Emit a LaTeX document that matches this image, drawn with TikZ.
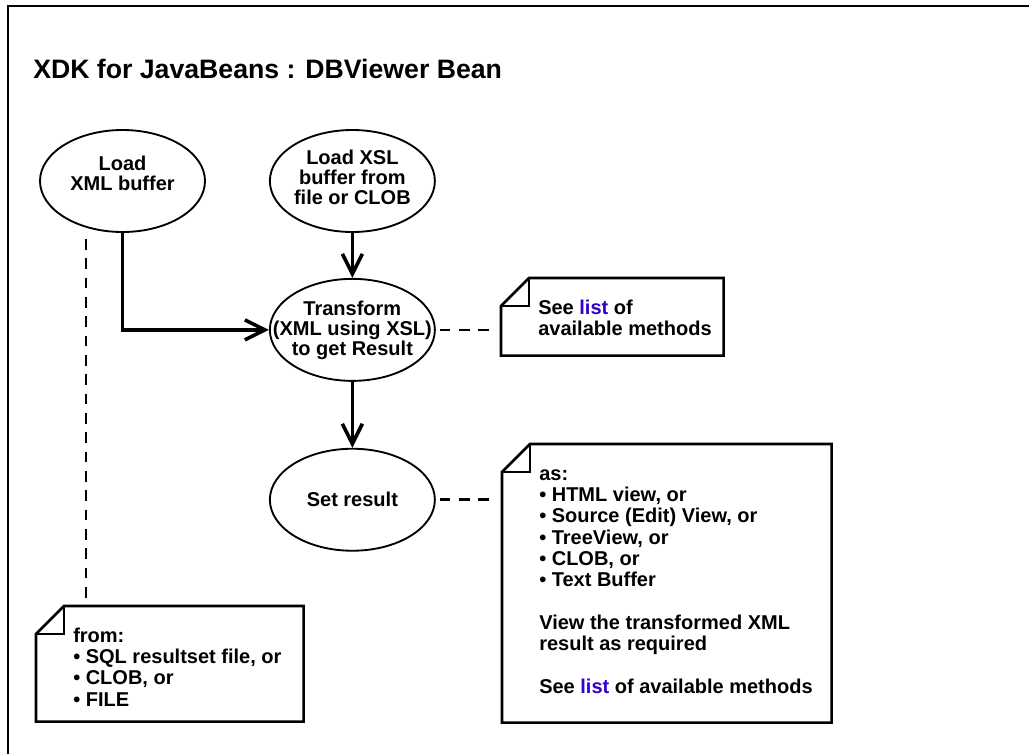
\documentclass[tikz,border=0pt]{standalone}
\usepackage{fontspec}
\setmainfont{Liberation Sans}
\usepackage{tikz}
\usetikzlibrary{positioning, arrows.meta, shapes.geometric}
\definecolor{inkblack}{RGB}{0,0,0}
\definecolor{listblue}{RGB}{51,0,204}
\tikzset{
  frame/.style={draw=inkblack, line width=2.1pt},
  heading/.style={
    font=\fontsize{20}{24}\bfseries\selectfont, inner sep=0pt, anchor=base west
  },
  oval/.style={
    draw=inkblack, ellipse, line width=1.4pt, inner sep=0pt,
    minimum width=123.75pt, minimum height=76.5pt
  },
  ovaltext/.style={
    font=\fontsize{15}{15}\bfseries\selectfont, align=center, inner sep=0pt
  },
  notebox/.style={rectangle, inner sep=0pt, anchor=north west},
  notetext/.style={
    font=\fontsize{15}{16}\bfseries\selectfont, align=left,
    inner sep=0pt, anchor=north west
  },
  noteline/.style={draw=inkblack, line width=1.9pt, line join=miter},
  flow/.style={-{Straight Barb[length=15pt, width=15pt]}, line width=2.7pt, inkblack},
  link/.style={dash pattern=on 8pt off 6.5pt, line width=1.9pt, inkblack}
}

\begin{document}
\begin{tikzpicture}[x=0.75pt, y=-0.75pt]
  \useasboundingbox[fill=white] (0,0) rectangle (1029,754);
  \draw[frame] (8,754) -- (8,6) -- (1029,6);
  \node[heading] (title) at (33,78) {XDK for JavaBeans : DBViewer Bean};

  \node[oval, label={[ovaltext, yshift=6pt]center:Load\\XML buffer}] (loadxml) at (122.5,181) {};
  \node[oval, right=47.25pt of loadxml, label={[ovaltext, yshift=3pt]center:Load XSL\\buffer from\\file or CLOB}] (loadxsl) {};
  \node[oval, below=33.75pt of loadxsl, label={[ovaltext]center:Transform\\(XML using XSL)\\to get Result}] (xform) {};
  \node[oval, below=49.5pt of xform, label={[ovaltext]center:Set result}] (setres) {};

  \node[notebox, minimum width=166.5pt, minimum height=57.75pt] (methbox) at (501,278) {};
  \node[notebox, minimum width=246.75pt, minimum height=208.5pt] (asbox) at (502,444) {};
  \node[notebox, minimum width=200.25pt, minimum height=86.25pt] (frombox) at (36,606) {};
  \foreach \n in {methbox, asbox, frombox} {
    \draw[noteline] ([yshift=-21pt]\n.north west) -- ([xshift=21pt]\n.north west) -- (\n.north east) -- (\n.south east) -- (\n.south west) -- cycle;
    \draw[noteline] ([yshift=-21pt]\n.north west) -| ([xshift=21pt]\n.north west);
  }
  \node[notetext] (methtext) at ([shift={(37,21)}]methbox.north west) {\strut See \textcolor{listblue}{list} of\\available methods};
  \node[notetext] (astext) at ([shift={(37,21)}]asbox.north west) {\strut as:\\• HTML view, or\\• Source (Edit) View, or\\• TreeView, or\\• CLOB, or\\• Text Buffer\\[16pt]View the transformed XML\\result as required\\[16pt]See \textcolor{listblue}{list} of available methods};
  \node[notetext] (fromtext) at ([shift={(37,21)}]frombox.north west) {\strut from:\\• SQL resultset file, or\\• CLOB, or\\• FILE};

  \draw[flow] (loadxml.south) |- (xform.west);
  \draw[flow] (loadxsl) -- (xform);
  \draw[flow] (xform) -- (setres);
  \coordinate (tap) at ([shift={(-36.5,6)}]loadxml.south);
  \draw[link] (tap) -- (tap |- frombox.north);
  \draw[link, shorten <=3pt, shorten >=7.5pt] (xform.east) -- (xform.east -| methbox.west);
  \draw[link, shorten <=3pt, shorten >=7.5pt] (setres.east) -- (setres.east -| asbox.west);
\end{tikzpicture}
\end{document}
